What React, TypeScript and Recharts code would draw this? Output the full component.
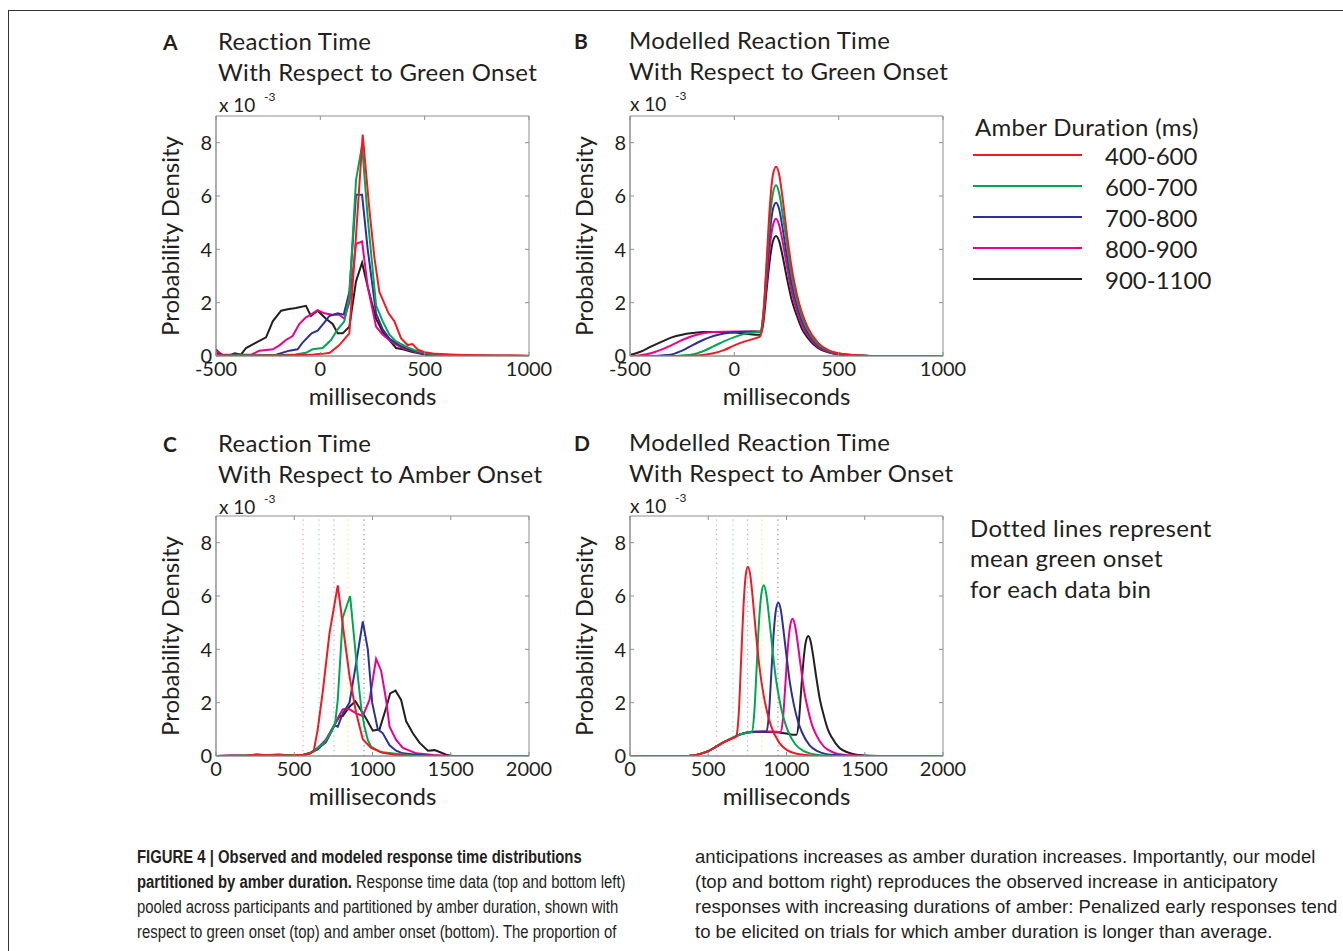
import React from "react";
import { LineChart, Line, XAxis, YAxis, ReferenceLine, ReferenceArea } from "recharts";

const FONT = "Lato, 'Open Sans', sans-serif";
const CAPTION_FONT = "'Liberation Sans', Arial, sans-serif";
const INK = "#231f20";
const AXIS = "#8f8f8f";

// legend order: 400-600 ... 900-1100
const BINS = ["400-600", "600-700", "700-800", "800-900", "900-1100"];
const COLORS = ["#ed1c24", "#00a651", "#2e3192", "#ec008c", "#231f20"];
const Y_TICKS = [0, 2, 4, 6, 8];
const GREEN_X_TICKS = [-500, 0, 500, 1000];
const AMBER_X_TICKS = [0, 500, 1000, 1500, 2000];

// mean green onset per bin (dotted lines)
const ONSET_COLORS = ["#f49a9a", "#8fd8c4", "#a9a9f2", "#f2ef3a", "#8a8a8a"];
const ONSETS_C = [556, 658, 754, 843, 946];
const ONSETS_D = [553, 658, 751, 842, 945];

type Pt = [number, number];

// A: observed, relative to green onset
const A_RED: Pt[] = [[-500,0.03],[-400,0.01],[-300,0.02],[-200,0.02],[-100,0.04],[-30,0.06],[10,0.08],[45,0.12],[90,0.4],[139,0.85],[171,4.5],[203,8.3],[235,5.5],[259,3.7],[283,2.4],[327,1.6],[355,1.3],[387,0.66],[418,0.41],[442,0.45],[466,0.25],[498,0.14],[554,0.08],[650,0.05],[750,0.03],[850,0.02],[1000,0.01]];
const A_GREEN: Pt[] = [[-500,0.05],[-450,0.02],[-400,0.03],[-300,0.03],[-200,0.04],[-120,0.06],[-69,0.12],[-37,0.25],[11,0.3],[51,0.6],[83,1.0],[115,1.3],[139,2.2],[171,6.6],[200,7.9],[227,5.2],[267,1.9],[299,1.3],[331,0.8],[363,0.55],[411,0.35],[458,0.2],[506,0.1],[560,0.05],[650,0.03],[750,0.01],[850,0.01],[1000,0]];
const A_BLUE: Pt[] = [[-500,0.1],[-460,0.03],[-400,0.02],[-300,0.02],[-212,0.05],[-149,0.2],[-109,0.25],[-85,0.5],[-42,0.85],[-13,0.95],[19,1.25],[43,1.5],[83,1.6],[112,1.55],[139,2.4],[171,6.05],[200,6.05],[227,4.0],[267,1.6],[299,1.0],[331,0.65],[379,0.4],[442,0.2],[506,0.08],[586,0.02],[700,0.01],[1000,0]];
const A_MAGENTA: Pt[] = [[-500,0.2],[-470,0.05],[-400,0.05],[-330,0.05],[-292,0.2],[-228,0.25],[-196,0.4],[-165,0.6],[-133,0.75],[-101,1.2],[-69,1.45],[-45,1.55],[-13,1.72],[19,1.6],[59,1.55],[91,1.55],[115,1.4],[139,2.0],[171,4.2],[200,4.3],[227,2.6],[267,1.1],[299,0.8],[347,0.5],[395,0.3],[458,0.15],[522,0.05],[650,0.02],[1000,0]];
const A_BLACK: Pt[] = [[-500,0.25],[-475,0.05],[-435,0.02],[-410,0.1],[-380,0.05],[-356,0.3],[-308,0.5],[-260,0.7],[-228,1.3],[-188,1.7],[-156,1.75],[-117,1.8],[-69,1.88],[-45,1.5],[-13,1.7],[27,1.4],[59,1.2],[83,0.85],[107,0.85],[139,1.1],[171,2.8],[200,3.5],[227,2.6],[267,1.4],[299,0.9],[331,0.6],[363,0.3],[395,0.25],[442,0.15],[506,0.05],[600,0.02],[1000,0]];

// B: modelled, relative to green onset
const B_RED: Pt[] = [[-500,0],[-300,0],[-200,0.01],[-150,0.04],[-100,0.1],[-50,0.22],[0,0.4],[50,0.55],[100,0.66],[125,0.75],[140,1.6],[155,3.6],[170,5.6],[185,6.8],[200,7.1],[215,6.8],[230,6.0],[250,4.7],[275,3.3],[300,2.3],[325,1.6],[350,1.1],[400,0.5],[450,0.22],[500,0.1],[600,0.02],[700,0],[1000,0]];
const B_GREEN: Pt[] = [[-500,0],[-300,0],[-250,0.02],[-200,0.06],[-150,0.18],[-100,0.36],[-50,0.55],[0,0.71],[50,0.83],[100,0.89],[125,0.92],[140,1.7],[155,3.4],[170,5.1],[185,6.1],[200,6.4],[215,6.1],[230,5.4],[250,4.3],[275,3.0],[300,2.1],[325,1.45],[350,1.0],[400,0.45],[450,0.2],[500,0.09],[600,0.02],[700,0],[1000,0]];
const B_BLUE: Pt[] = [[-500,0],[-400,0],[-350,0.02],[-300,0.06],[-250,0.2],[-200,0.41],[-150,0.6],[-100,0.75],[-50,0.84],[0,0.89],[100,0.92],[125,0.92],[140,1.6],[155,3.1],[170,4.6],[185,5.5],[200,5.75],[215,5.5],[230,4.85],[250,3.85],[275,2.7],[300,1.9],[325,1.3],[350,0.9],[400,0.4],[450,0.18],[500,0.08],[600,0.02],[700,0],[1000,0]];
const B_MAGENTA: Pt[] = [[-500,0],[-450,0.03],[-400,0.1],[-350,0.24],[-300,0.41],[-250,0.6],[-200,0.75],[-150,0.85],[-100,0.9],[0,0.92],[100,0.92],[125,0.9],[140,1.5],[155,2.8],[170,4.1],[185,4.9],[200,5.15],[215,4.9],[230,4.35],[250,3.45],[275,2.4],[300,1.7],[325,1.15],[350,0.8],[400,0.35],[450,0.16],[500,0.07],[600,0.02],[700,0],[1000,0]];
const B_BLACK: Pt[] = [[-500,0.04],[-450,0.16],[-400,0.35],[-350,0.53],[-300,0.7],[-250,0.8],[-200,0.86],[-150,0.9],[-100,0.9],[0,0.88],[50,0.84],[100,0.8],[125,0.8],[140,1.3],[155,2.5],[170,3.6],[185,4.3],[200,4.5],[215,4.3],[230,3.8],[250,3.0],[275,2.1],[300,1.5],[325,1.0],[350,0.7],[400,0.3],[450,0.14],[500,0.06],[600,0.01],[700,0],[1000,0]];

// C: observed, relative to amber onset
const C_RED: Pt[] = [[0,0],[100,0.01],[200,0.02],[260,0.05],[330,0.03],[400,0.04],[450,0.02],[500,0.03],[560,0.05],[600,0.1],[625,0.2],[650,1.0],[682,2.4],[725,4.6],[778,6.4],[817,4.6],[853,3.0],[896,1.6],[938,0.63],[991,0.3],[1066,0.12],[1151,0.04],[1250,0],[2000,0]];
const C_GREEN: Pt[] = [[0,0],[100,0.01],[200,0.03],[260,0.05],[330,0.04],[400,0.06],[450,0.03],[500,0.04],[560,0.05],[618,0.15],[650,0.3],[693,0.5],[736,0.9],[761,1.2],[778,2.1],[810,5.2],[857,6.0],[880,4.6],[906,3.0],[930,1.7],[949,1.1],[970,0.6],[991,0.35],[1050,0.15],[1150,0.08],[1250,0.02],[1350,0],[2000,0]];
const C_BLUE: Pt[] = [[0,0],[100,0.01],[200,0.02],[260,0.04],[330,0.03],[400,0.04],[500,0.03],[560,0.05],[600,0.1],[650,0.25],[704,0.55],[736,0.9],[757,1.15],[778,1.1],[810,1.6],[853,2.0],[896,3.5],[938,5.05],[970,4.0],[998,2.0],[1034,1.0],[1066,0.85],[1109,0.4],[1151,0.2],[1194,0.1],[1279,0.05],[1343,0.02],[1450,0],[2000,0]];
const C_MAGENTA: Pt[] = [[0,0],[100,0.01],[200,0.02],[260,0.05],[330,0.03],[400,0.04],[500,0.03],[560,0.05],[600,0.1],[650,0.3],[700,0.6],[750,1.1],[790,1.55],[810,1.75],[853,1.75],[896,1.6],[938,1.5],[981,2.1],[1023,3.64],[1055,3.2],[1087,2.1],[1109,1.1],[1151,0.6],[1194,0.3],[1279,0.1],[1386,0.04],[1500,0],[2000,0]];
const C_BLACK: Pt[] = [[0,0],[100,0.01],[200,0.02],[260,0.05],[330,0.03],[400,0.05],[500,0.03],[560,0.05],[600,0.1],[650,0.3],[700,0.5],[750,1.1],[790,1.5],[810,1.5],[853,1.85],[891,2.05],[938,1.6],[960,1.4],[1002,0.95],[1045,1.0],[1092,1.9],[1113,2.35],[1147,2.45],[1183,2.1],[1215,1.3],[1258,0.85],[1300,0.5],[1354,0.2],[1397,0.22],[1429,0.15],[1471,0.05],[1514,0],[2000,0]];

// D: modelled, relative to amber onset
const D_RED: Pt[] = [[0,0],[350,0],[400,0.02],[450,0.08],[500,0.18],[550,0.35],[600,0.52],[650,0.65],[678,0.73],[695,1.6],[710,3.6],[725,5.6],[740,6.8],[753,7.1],[768,6.8],[783,6.0],[803,4.7],[828,3.3],[853,2.3],[878,1.6],[903,1.1],[953,0.5],[1003,0.22],[1053,0.1],[1153,0.02],[1253,0],[2000,0]];
const D_GREEN: Pt[] = [[0,0],[350,0],[400,0.02],[450,0.08],[500,0.18],[550,0.35],[600,0.52],[650,0.66],[700,0.8],[750,0.88],[780,0.92],[795,1.7],[810,3.4],[825,5.1],[840,6.1],[855,6.4],[870,6.1],[885,5.4],[905,4.3],[930,3.0],[955,2.1],[980,1.45],[1005,1.0],[1055,0.45],[1105,0.2],[1155,0.09],[1255,0.02],[1355,0],[2000,0]];
const D_BLUE: Pt[] = [[0,0],[350,0],[400,0.02],[450,0.08],[500,0.18],[550,0.35],[600,0.52],[650,0.66],[700,0.8],[750,0.88],[800,0.91],[850,0.92],[873,0.92],[888,1.6],[903,3.1],[918,4.6],[933,5.5],[948,5.75],[963,5.5],[978,4.85],[998,3.85],[1023,2.7],[1048,1.9],[1073,1.3],[1098,0.9],[1148,0.4],[1198,0.18],[1248,0.08],[1348,0.02],[1448,0],[2000,0]];
const D_MAGENTA: Pt[] = [[0,0],[350,0],[400,0.02],[450,0.08],[500,0.18],[550,0.35],[600,0.52],[650,0.66],[700,0.8],[750,0.88],[800,0.91],[900,0.92],[964,0.9],[979,1.5],[994,2.8],[1009,4.1],[1024,4.9],[1039,5.15],[1054,4.9],[1069,4.35],[1089,3.45],[1114,2.4],[1139,1.7],[1164,1.15],[1189,0.8],[1239,0.35],[1289,0.16],[1339,0.07],[1439,0.02],[1539,0],[2000,0]];
const D_BLACK: Pt[] = [[0,0],[350,0],[400,0.02],[450,0.08],[500,0.18],[550,0.35],[600,0.52],[650,0.66],[700,0.8],[750,0.88],[800,0.9],[900,0.9],[950,0.88],[1000,0.84],[1040,0.8],[1064,0.8],[1079,1.3],[1094,2.5],[1109,3.6],[1124,4.3],[1139,4.5],[1154,4.3],[1169,3.8],[1189,3.0],[1214,2.1],[1239,1.5],[1264,1.0],[1289,0.7],[1339,0.3],[1389,0.14],[1439,0.06],[1539,0.01],[1639,0],[2000,0]];

const PLOT_W = 313;
const PLOT_H = 240;
const MARGIN = { top: 16, right: 40, left: 16, bottom: 10 };
const Y_W = 50;
const X_H = 50;

const rows = (pts: Pt[]) => pts.map(([x, y]) => ({ x, y }));

const YTick = ({ x, y, payload }: any) => (
  <g>
    <text x={x} y={y} dy="0.36em" textAnchor="end" fontSize={20} fontFamily={FONT} fill={INK}>{payload.value}</text>
    <line x1={x + 4} x2={x + 8} y1={y} y2={y} stroke={AXIS} />
    <line x1={x + 4 + PLOT_W} x2={x + PLOT_W} y1={y} y2={y} stroke={AXIS} />
  </g>
);

const XTick = ({ x, y, payload }: any) => (
  <g>
    <text x={x} y={y} dy="0.72em" textAnchor="middle" fontSize={20} fontFamily={FONT} fill={INK}>{payload.value}</text>
    <line x1={x} x2={x} y1={y - 6} y2={y - 10} stroke={AXIS} />
    <line x1={x} x2={x} y1={y - 6 - PLOT_H} y2={y - 2 - PLOT_H} stroke={AXIS} />
  </g>
);

function Panel({ left, top, domain, ticks, series, onsets, smooth }: {
  left: number; top: number; domain: [number, number]; ticks: number[];
  series: Pt[][]; onsets?: number[]; smooth?: boolean;
}) {
  const order = [4, 3, 2, 1, 0];
  return (
    <div style={{ position: "absolute", left: left - MARGIN.left - Y_W, top: top - MARGIN.top }}>
      <LineChart width={MARGIN.left + Y_W + PLOT_W + MARGIN.right} height={MARGIN.top + PLOT_H + X_H + MARGIN.bottom} margin={MARGIN}>
        <XAxis dataKey="x" type="number" domain={domain} ticks={ticks} allowDataOverflow
          height={X_H} tickSize={0} tickMargin={6} tickLine={false} axisLine={{ stroke: AXIS }}
          tick={<XTick />} interval={0}
          label={{ value: "milliseconds", position: "insideBottom", offset: 1, fontSize: 24, fontFamily: FONT, fill: INK }} />
        <YAxis type="number" domain={[0, 9]} ticks={Y_TICKS} allowDataOverflow
          width={Y_W} tickSize={0} tickMargin={4} tickLine={false} axisLine={{ stroke: AXIS }}
          tick={<YTick />} interval={0}
          label={{ value: "Probability Density", angle: -90, position: "insideLeft", offset: 4, fontSize: 24, fontFamily: FONT, fill: INK, style: { textAnchor: "middle" } }} />
        <ReferenceArea x1={domain[0]} x2={domain[1]} y1={0} y2={9} fill="none" fillOpacity={0} stroke={AXIS} strokeWidth={1} />
        {onsets && onsets.map((v, i) => (
          <ReferenceLine key={i} x={v} stroke={ONSET_COLORS[i]} strokeWidth={1.2} strokeDasharray="1.2 3.6" />
        ))}
        {order.map((i) => (
          <Line key={i} data={rows(series[i])} dataKey="y" type={smooth ? "monotone" : "linear"}
            stroke={COLORS[i]} strokeWidth={2} dot={false} isAnimationActive={false} />
        ))}
      </LineChart>
    </div>
  );
}

const T = (left: number, top: number, text: string, size = 24, weight = 400, spacing = 0.3) => (
  <div style={{ position: "absolute", left, top: top - size * 0.6, fontSize: size, fontWeight: weight, fontFamily: FONT, color: INK, lineHeight: `${size * 1.2}px`, letterSpacing: spacing, whiteSpace: "nowrap" }}>{text}</div>
);

function Heading({ left, letter, line1, line2, y }: { left: number; letter: string; line1: string; line2: string; y: number }) {
  return (
    <>
      {T(left - 55, y + 1, letter, 21, 700, 0)}
      {T(left, y, line1)}
      {T(left, y + 31, line2)}
      {T(left + 1, y + 64, "x 10", 19, 400, 0)}
      {T(left + 46, y + 56, "-3", 12, 400, 0)}
    </>
  );
}

const CAP = (left: number, top: number, scale: number, parts: [string, boolean][]) => (
  <div style={{ position: "absolute", left, top: top - 11, fontSize: 17.5, lineHeight: "22px", fontFamily: CAPTION_FONT, color: INK, whiteSpace: "nowrap", transform: `scaleX(${scale})`, transformOrigin: "0 0" }}>
    {parts.map(([t, b], i) => <span key={i} style={{ fontWeight: b ? 700 : 400 }}>{t}</span>)}
  </div>
);

export default function App() {
  return (
    <div style={{ position: "absolute", left: 0, top: 0, width: 1343, height: 951, background: "#fff", overflow: "hidden" }}>
      <div style={{ position: "absolute", left: 8, top: 10, width: 1335, height: 941, borderTop: "1.5px solid #333", borderLeft: "1.5px solid #333" }} />

      <Heading left={218} letter="A" line1="Reaction Time" line2="With Respect to Green Onset" y={41} />
      <Heading left={629} letter="B" line1="Modelled Reaction Time" line2="With Respect to Green Onset" y={40} />
      <Heading left={218} letter="C" line1="Reaction Time" line2="With Respect to Amber Onset" y={443} />
      <Heading left={629} letter="D" line1="Modelled Reaction Time" line2="With Respect to Amber Onset" y={442} />

      <Panel left={216} top={116} domain={[-500, 1000]} ticks={GREEN_X_TICKS} series={[A_RED, A_GREEN, A_BLUE, A_MAGENTA, A_BLACK]} />
      <Panel left={630} top={116} domain={[-500, 1000]} ticks={GREEN_X_TICKS} series={[B_RED, B_GREEN, B_BLUE, B_MAGENTA, B_BLACK]} smooth />
      <Panel left={216} top={516} domain={[0, 2000]} ticks={AMBER_X_TICKS} series={[C_RED, C_GREEN, C_BLUE, C_MAGENTA, C_BLACK]} onsets={ONSETS_C} />
      <Panel left={630} top={516} domain={[0, 2000]} ticks={AMBER_X_TICKS} series={[D_RED, D_GREEN, D_BLUE, D_MAGENTA, D_BLACK]} onsets={ONSETS_D} smooth />

      {T(975, 127, "Amber Duration (ms)")}
      {BINS.map((b, i) => (
        <React.Fragment key={b}>
          <div style={{ position: "absolute", left: 973, top: 154 + i * 31, width: 109, height: 2, background: COLORS[i] }} />
          {T(1105, 156 + i * 31, b, 24, 400, 0)}
        </React.Fragment>
      ))}

      {T(970, 528, "Dotted lines represent")}
      {T(970, 558, "mean green onset")}
      {T(970, 589, "for each data bin")}

      {CAP(137, 857, 0.85, [["FIGURE 4 | Observed and modeled response time distributions", true]])}
      {CAP(137, 882, 0.85, [["partitioned by amber duration.", true], [" Response time data (top and bottom left)", false]])}
      {CAP(137, 907, 0.85, [["pooled across participants and partitioned by amber duration, shown with", false]])}
      {CAP(137, 932, 0.85, [["respect to green onset (top) and amber onset (bottom). The proportion of", false]])}
      {CAP(695, 857, 1.06, [["anticipations increases as amber duration increases. Importantly, our model", false]])}
      {CAP(695, 882, 1.06, [["(top and bottom right) reproduces the observed increase in anticipatory", false]])}
      {CAP(695, 907, 1.06, [["responses with increasing durations of amber: Penalized early responses tend", false]])}
      {CAP(695, 932, 1.06, [["to be elicited on trials for which amber duration is longer than average.", false]])}
    </div>
  );
}
